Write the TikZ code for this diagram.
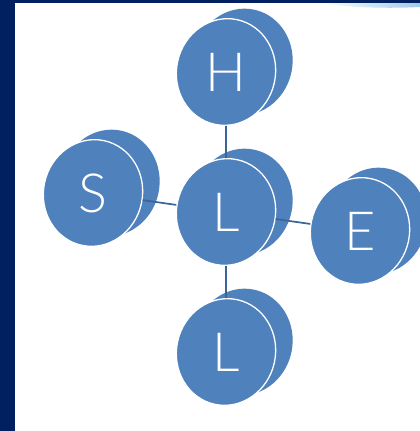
\documentclass[tikz,border=0pt]{standalone}
\usepackage{fontspec}
\newfontfamily\discfont{Lato Light}
\usetikzlibrary{shapes.geometric}
\definecolor{navy}{HTML}{002060}
\definecolor{discblue}{HTML}{4F81BD}
\definecolor{linkblue}{HTML}{3A6597}
\definecolor{streak}{HTML}{9CCBE6}
\tikzset{
  disc/.style={ellipse, fill=discblue, draw=white, line width=1.3pt,
    minimum width=99pt, minimum height=107pt, inner sep=0pt, rotate=-12},
  back/.style={fill=discblue},
  letter/.style={text=white, font=\discfont\fontsize{54}{54}\selectfont},
  link/.style={draw=linkblue, line width=1.7pt}
}

\begin{document}
\begin{tikzpicture}[x=1pt, y=-1pt]
        \useasboundingbox (0,0) rectangle (420,431);
        \fill[white] (0,0) rectangle (420,431);
        % frame
        \fill[navy] (0,0) rectangle (15,431);
        \fill[navy] (0,0) rectangle (420,3);
        \shade[left color=white, right color=streak]
            (320,3) .. controls (360,9) and (400,8) .. (420,7) -- (420,3) -- cycle;

        % back faces of the discs
        \foreach \x/\y in {226/72, 226/212, 93/193, 360/231, 226/352} {
            \fill[back, rotate around={-12:(\x+17,\y-10)}]
                (\x+17,\y-10) ellipse (49.5 and 53.5);
        }

        % front faces
        \node[disc] (H) at (226,72) {};
        \node[disc] (L) at (226,212) {};
        \node[disc] (S) at (93,193) {};
        \node[disc] (E) at (360,231) {};
        \node[disc] (L2) at (226,352) {};

        % links
        \draw[link] (H) -- (L);
        \draw[link] (S) -- (L);
        \draw[link] (L) -- (E);
        \draw[link] (L) -- (L2);

        % letters
        \node[letter] (tH) at (H) {H};
        \node[letter] (tL) at (L) {L};
        \node[letter] (tS) at (S) {S};
        \node[letter] (tE) at (E) {E};
        \node[letter] (tL2) at (L2) {L};
\end{tikzpicture}
\end{document}
